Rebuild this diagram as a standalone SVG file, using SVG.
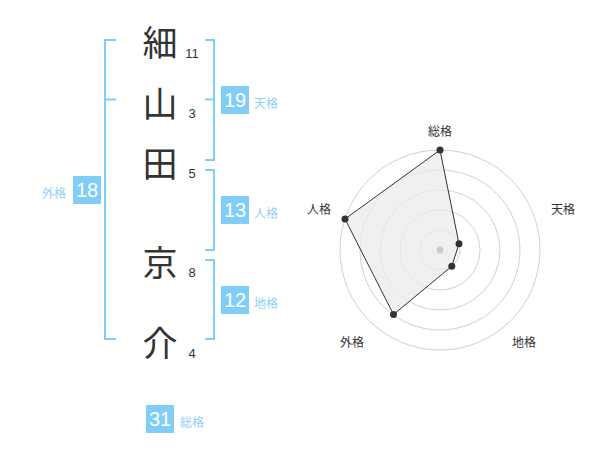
<svg xmlns="http://www.w3.org/2000/svg" width="600" height="470" viewBox="0 0 600 470">
<style>
.kanji{font-family:"Noto Sans CJK JP","Noto Sans CJK SC",sans-serif;font-size:35px;fill:#333;text-anchor:middle;dominant-baseline:central}
.num{font-family:"Liberation Sans",Arial,sans-serif;font-size:13px;fill:#333;text-anchor:middle}
.br{fill:none;stroke:#80cdf8;stroke-width:2}
.box{fill:#80cdf8}
.bt{font-family:"Liberation Sans",Arial,sans-serif;font-size:20px;fill:#fff;text-anchor:middle;dominant-baseline:central}
.lb{font-family:"Noto Sans CJK JP","Noto Sans CJK SC",sans-serif;font-size:12px;fill:#8fd0f5;dominant-baseline:central}
.ring{fill:none;stroke:#d0d0d0;stroke-width:1}
.rl{font-family:"Noto Sans CJK JP","Noto Sans CJK SC",sans-serif;font-size:12px;fill:#333;text-anchor:middle;dominant-baseline:central}
.dot{fill:#333}
</style>
<rect width="600" height="470" fill="#fff"/>
<g id="connectors">
<path class="br" d="M116,40 H105 V339 H116 M105,99.5 H116"/>
<path class="br" d="M205,40 H214 V160 H205 M214,99.5 H205"/>
<path class="br" d="M205,170 H214 V250 H205"/>
<path class="br" d="M205,260 H214 V339 H205"/>
</g>
<g id="name">
<g id="c1"><text class="kanji" x="160" y="40">細</text><text class="num" x="192" y="58">11</text></g>
<g id="c2"><text class="kanji" x="160" y="101">山</text><text class="num" x="192" y="118">3</text></g>
<g id="c3"><text class="kanji" x="160" y="161">田</text><text class="num" x="192" y="178">5</text></g>
<g id="c4"><text class="kanji" x="160" y="260">京</text><text class="num" x="192" y="277">8</text></g>
<g id="c5"><text class="kanji" x="160" y="340">介</text><text class="num" x="192" y="358">4</text></g>
</g>
<g id="tenkaku"><rect class="box" x="221" y="86" width="28" height="28"/><text class="bt" x="235" y="100">19</text><text class="lb" x="254" y="102">天格</text></g>
<g id="jinkaku"><rect class="box" x="221" y="196" width="28" height="28"/><text class="bt" x="235" y="210">13</text><text class="lb" x="254" y="212">人格</text></g>
<g id="chikaku"><rect class="box" x="221" y="286" width="28" height="28"/><text class="bt" x="235" y="300">12</text><text class="lb" x="254" y="302">地格</text></g>
<g id="gaikaku"><rect class="box" x="73" y="176" width="28" height="28"/><text class="bt" x="87" y="190">18</text><text class="lb" x="66" y="192" text-anchor="end">外格</text></g>
<g id="soukaku"><rect class="box" x="146" y="405" width="28" height="28"/><text class="bt" x="160" y="419">31</text><text class="lb" x="180" y="421">総格</text></g>
<g id="radar">
<circle class="ring" cx="440" cy="250" r="20"/>
<circle class="ring" cx="440" cy="250" r="40"/>
<circle class="ring" cx="440" cy="250" r="60"/>
<circle class="ring" cx="440" cy="250" r="80"/>
<circle class="ring" cx="440" cy="250" r="100"/>
<polygon points="440,150 459,243.8 451.8,266.2 393.5,314.5 345,219" fill="#ebebeb" fill-opacity="0.75" stroke="#333" stroke-width="1"/>
<circle cx="440" cy="250" r="3.5" fill="#ccc"/>
<circle class="dot" cx="440" cy="150" r="3.5"/>
<circle class="dot" cx="459" cy="243.8" r="3.5"/>
<circle class="dot" cx="451.8" cy="266.2" r="3.5"/>
<circle class="dot" cx="393.5" cy="314.5" r="3.5"/>
<circle class="dot" cx="345" cy="219" r="3.5"/>
<text class="rl" x="440" y="130">総格</text>
<text class="rl" x="563" y="208">天格</text>
<text class="rl" x="524" y="341">地格</text>
<text class="rl" x="352" y="341">外格</text>
<text class="rl" x="319" y="208">人格</text>
</g>
</svg>
